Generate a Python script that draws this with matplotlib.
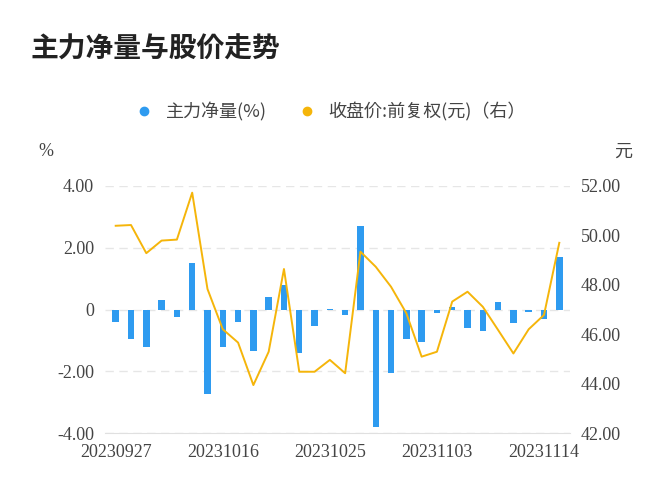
import matplotlib
matplotlib.use("Agg")
import matplotlib.pyplot as plt
from matplotlib.lines import Line2D
from matplotlib import font_manager as fm

cjk_name = None
for f in fm.fontManager.ttflist:
    if "CJK" in f.name and ("SC" in f.name or cjk_name is None):
        cjk_name = f.name
        if "SC" in f.name:
            break
cjk_name = cjk_name or "Noto Sans CJK SC"

dates = ["20230927","20230928","20231009","20231010","20231011","20231012","20231013",
         "20231016","20231017","20231018","20231019","20231020","20231023","20231024",
         "20231025","20231026","20231027","20231030","20231031","20231101","20231102",
         "20231103","20231106","20231107","20231108","20231109","20231110","20231113",
         "20231114","20231115"]
net_flow = [-0.42,-0.97,-1.23,0.30,-0.23,1.52,-2.75,-1.20,-0.39,-1.36,0.42,0.78,-1.42,-0.55,
            0.02,-0.17,2.72,-3.79,-2.07,-0.97,-1.04,-0.10,0.08,-0.61,-0.71,0.25,-0.45,-0.08,
            -0.31,1.70]
price = [50.39,50.42,49.28,49.79,49.83,51.73,47.83,46.20,45.66,43.94,45.29,48.64,44.48,44.48,
         44.96,44.42,49.34,48.73,47.92,46.85,45.09,45.29,47.32,47.72,47.11,46.17,45.22,46.20,
         46.78,49.70]
left_ticks = [-4, -2, 0, 2, 4]
left_labels = ["-4.00", "-2.00", "0", "2.00", "4.00"]
right_ticks = [42, 44, 46, 48, 50, 52]

bar_c = "#2e9bf0"
line_c = "#f5b50a"
txt_c = "#444444"
serif = "Liberation Serif"

fig = plt.figure(figsize=(6.72, 5.0), dpi=100)
ax = fig.add_axes([105/672, 67/500, 465/672, 247/500])
x = list(range(len(dates)))
ax.bar(x, net_flow, width=0.42, color=bar_c, zorder=3)
ax.set_ylim(-4, 4)
ax.set_xlim(-0.7, len(dates) - 0.3)
ax.set_yticks(left_ticks)
ax.set_yticklabels(left_labels, fontfamily=serif)
ax.set_xticks(x[::7])
ax.set_xticklabels(dates[::7], fontfamily=serif)
ax.grid(axis="y", color="#e6e6e6", linestyle=(0, (6, 4)), linewidth=1, zorder=0)
for s in ["top", "right", "left"]:
    ax.spines[s].set_visible(False)
ax.spines["bottom"].set_color("#e0e0e0")
ax.tick_params(length=0, labelsize=13, colors=txt_c, pad=8)

ax2 = ax.twinx()
ax2.plot(x, price, color=line_c, linewidth=1.4, zorder=4)
ax2.set_ylim(42, 52)
ax2.set_yticks(right_ticks)
ax2.set_yticklabels([f"{v:.2f}" for v in right_ticks], fontfamily=serif)
for s in ax2.spines.values():
    s.set_visible(False)
ax2.tick_params(length=0, labelsize=13, colors=txt_c, pad=8)

fig.text(30/672, 1 - 50/500, "主力净量与股价走势", fontsize=20, fontweight="bold",
         color="#222222", va="center", fontfamily=cjk_name)
fig.text(38/672, 1 - 152/500, "%", fontsize=13, color=txt_c, va="center", fontfamily=serif)
fig.text(614/672, 1 - 152/500, "元", fontsize=13, color=txt_c, va="center", fontfamily=cjk_name)

handles = [Line2D([], [], marker="o", linestyle="", color=bar_c, markersize=6),
           Line2D([], [], marker="o", linestyle="", color=line_c, markersize=6)]
fig.legend(handles, ["主力净量(%)", "收盘价:前复权(元)（右）"], loc="center",
           bbox_to_anchor=(0.485, 1 - 112/500), ncol=2, frameon=False,
           prop={"family": cjk_name, "size": 13},
           handletextpad=0.2, columnspacing=1.2, labelcolor=txt_c)

fig.savefig("out.png", dpi=100)
